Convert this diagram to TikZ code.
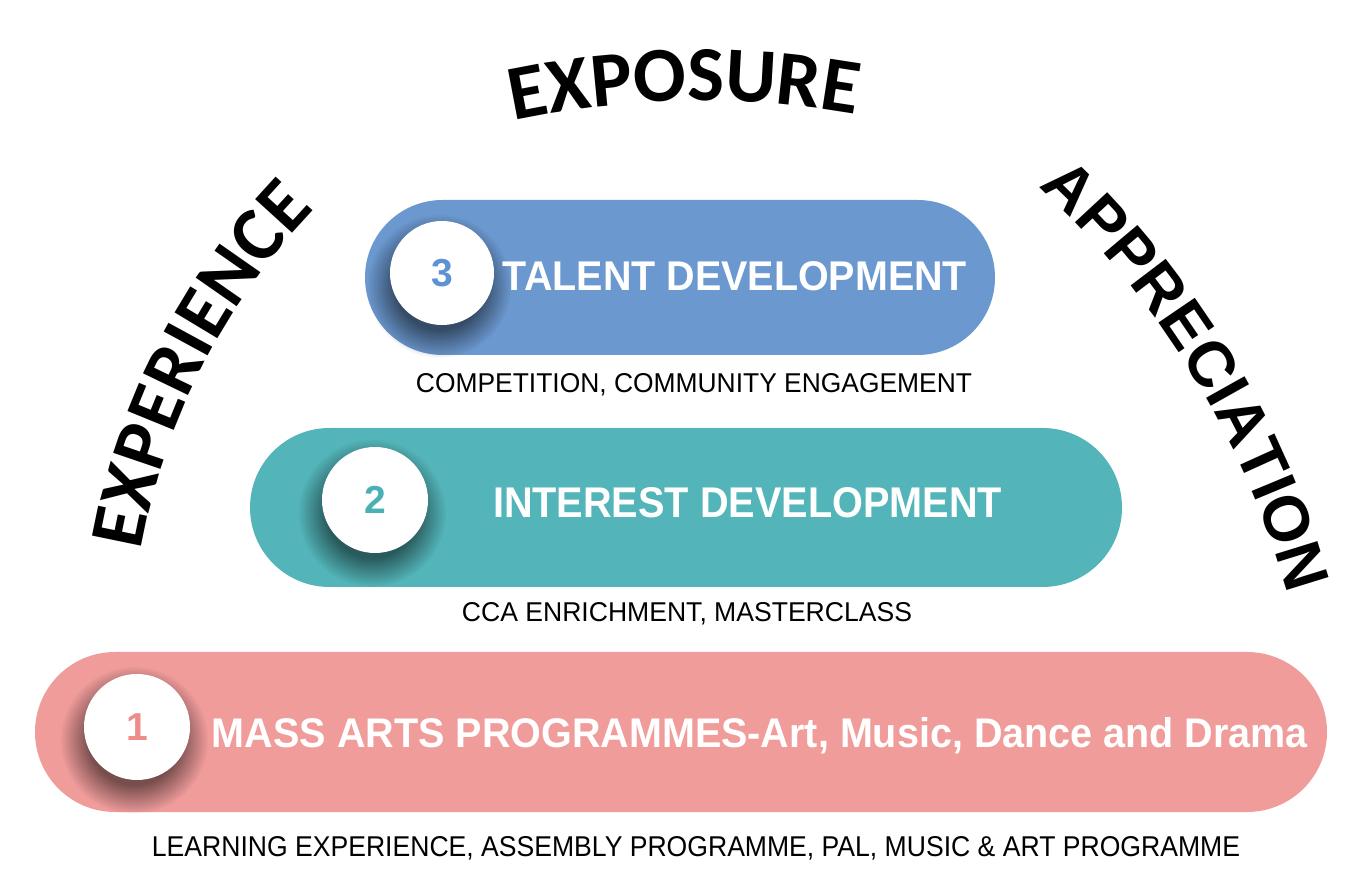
\documentclass[tikz,border=0pt]{standalone}
\usepackage{fontspec}
\setmainfont{Liberation Sans}
\newfontfamily\calfont{Carlito}
\usetikzlibrary{shapes.misc,decorations.text,fadings,calc}
\definecolor{pblue}{HTML}{6B98CF}
\definecolor{pteal}{HTML}{53B5B9}
\definecolor{ppink}{HTML}{F09C9B}
\definecolor{nblue}{HTML}{5F92D3}
\definecolor{nteal}{HTML}{49B0B4}
\definecolor{npink}{HTML}{EE8C8C}
\pgfdeclareradialshading{softshadeshd}{\pgfpointorigin}{color(0bp)=(pgftransparent!0); color(15bp)=(pgftransparent!0); color(25bp)=(pgftransparent!100); color(50bp)=(pgftransparent!100)}
\pgfdeclarefading{softcircfade}{\pgfuseshading{softshadeshd}}
\newcommand\arcfontA{\calfont\bfseries\fontsize{39pt}{43pt}\selectfont}
\newcommand\arcfontB{\calfont\bfseries\fontsize{38.5pt}{42pt}\selectfont}
\newcommand\arcfontC{\bfseries\fontsize{32pt}{36pt}\selectfont}
\begin{document}
\begin{tikzpicture}[x=0.5pt,y=0.5pt,
  pill/.style={rounded rectangle, inner sep=0pt, draw=none},
  numcirc/.style={circle, fill=white, inner sep=0pt, minimum size=#1,
    font=\bfseries\fontsize{19.5pt}{20pt}\selectfont},
  circshadow/.style={fill=black, opacity=0.5, path fading=softcircfade},
  title/.style={anchor=base, inner sep=0pt, text=white, font=\bfseries},
  caption/.style={anchor=base, inner sep=0pt, text=black},
  arctext/.style={decorate, decoration={text along path, text align=center, text={#1}}}]
\useasboundingbox (0,0) rectangle (1370,878);
\fill[white] (0,0) rectangle (1370,878);

% curved headings
\path[arctext={|\arcfontA|EXPOSURE}] (700,-121) ++(110:449pt) arc[start angle=110, end angle=72, radius=449pt];
\path[arctext={|\arcfontB|EXPERIENCE}] (787,213) ++(183:328pt) arc[start angle=183, end angle=123, radius=328pt];
\path[arctext={|\arcfontC|APPRECIATION}] (443,46) ++(55:439pt) arc[start angle=55, end angle=8, radius=439pt];

% pills
\node[pill, fill=pblue, minimum width=315pt, minimum height=77.5pt] (p3) at (680,600.5) {};
\node[pill, fill=pteal, minimum width=436pt, minimum height=79.5pt] (p2) at (686,370.5) {};
\node[pill, fill=ppink, minimum width=646pt, minimum height=80pt] (p1) at (681,146) {};

% circle positions
\coordinate (c3) at (442,605);
\coordinate (c2) at (375,378);
\coordinate (c1) at (137,151);

% shadows
\fill[circshadow] ($(c3)+(-3,-13)$) circle (36pt);
\fill[circshadow] ($(c2)+(-3,-13)$) circle (37pt);
\fill[circshadow] ($(c1)+(-3,-13)$) circle (37pt);

% number circles
\node[numcirc=52pt, text=nblue] (n3) at (c3) {3};
\node[numcirc=53pt, text=nteal] (n2) at (c2) {2};
\node[numcirc=53pt, text=npink] (n1) at (c1) {1};

% titles
\node[title] (t3) at (735,587.5) {\resizebox{232pt}{14.5pt}{TALENT DEVELOPMENT}};
\node[title] (t2) at (747.5,360) {\resizebox{254.5pt}{15pt}{INTEREST DEVELOPMENT}};
\node[title] (t1) at (760,130) {\resizebox{548pt}{15pt}{MASS ARTS PROGRAMMES-Art, Music, Dance and Drama}};

% captions
\node[caption] (k3) at (694,485.5) {\resizebox{278pt}{9.5pt}{COMPETITION, COMMUNITY ENGAGEMENT}};
\node[caption] (k2) at (687,256.5) {\resizebox{225pt}{9.5pt}{CCA ENRICHMENT, MASTERCLASS}};
\node[caption] (k1) at (696,22) {\resizebox{544pt}{10pt}{LEARNING EXPERIENCE, ASSEMBLY PROGRAMME, PAL, MUSIC \& ART PROGRAMME}};
\end{tikzpicture}
\end{document}
